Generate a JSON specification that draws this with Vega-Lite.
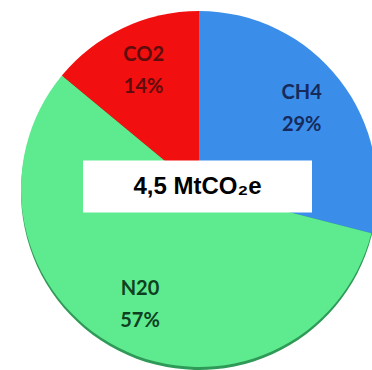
{
  "$schema": "https://vega.github.io/schema/vega-lite/v6.json",
  "width": 346,
  "height": 362,
  "autosize": "none",
  "padding": {"left": 26, "top": 8, "right": 0, "bottom": 0},
  "background": "white",
  "view": {"stroke": null},
  "datasets": {
    "gases": [
      {"gas": "CH4", "share": 29, "idx": 1, "label": "CH4\n29%"},
      {"gas": "N20", "share": 57, "idx": 2, "label": "N20\n57%"},
      {"gas": "CO2", "share": 14, "idx": 3, "label": "CO2\n14%"}
    ],
    "total": [{"total": "4,5 MtCO₂e"}]
  },
  "layer": [
    {
      "data": {"name": "gases"},
      "mark": {"type": "arc", "outerRadius": 178, "yOffset": 3, "color": "#2f9a57"},
      "encoding": {
        "theta": {"field": "share", "type": "quantitative", "stack": true},
        "order": {"field": "idx", "type": "quantitative"}
      }
    },
    {
      "data": {"name": "gases"},
      "mark": {"type": "arc", "outerRadius": 178},
      "encoding": {
        "theta": {"field": "share", "type": "quantitative", "stack": true},
        "order": {"field": "idx", "type": "quantitative"},
        "color": {
          "field": "gas",
          "type": "nominal",
          "scale": {"domain": ["CH4", "N20", "CO2"], "range": ["#3a8eea", "#5eeb8f", "#f20f0f"]},
          "legend": null
        }
      }
    },
    {
      "data": {"name": "gases"},
      "mark": {"type": "text", "radius": 130, "lineBreak": "\n", "lineHeight": 32, "dy": -16, "font": "Lato", "fontWeight": "bold", "fontSize": 20, "baseline": "middle", "align": "center"},
      "encoding": {
        "theta": {"field": "share", "type": "quantitative", "stack": true},
        "order": {"field": "idx", "type": "quantitative"},
        "text": {"field": "label", "type": "nominal"},
        "color": {
          "field": "gas",
          "type": "nominal",
          "scale": {"domain": ["CH4", "N20", "CO2"], "range": ["#172a5c", "#0f4020", "#5e0c0c"]},
          "legend": null
        }
      }
    },
    {
      "data": {"name": "total"},
      "mark": {"type": "point", "shape": "M-1,-0.227H1V0.227H-1Z", "size": 52441, "filled": true, "fill": "white", "opacity": 1, "strokeWidth": 0, "xOffset": -1.5, "yOffset": -2.5},
      "encoding": {}
    },
    {
      "data": {"name": "total"},
      "mark": {"type": "text", "font": "Liberation Sans", "fontWeight": "bold", "fontSize": 24, "color": "black", "baseline": "middle", "align": "center", "xOffset": -1.5, "yOffset": -2.5},
      "encoding": {"text": {"field": "total", "type": "nominal"}}
    }
  ],
  "resolve": {"scale": {"color": "independent"}}
}
